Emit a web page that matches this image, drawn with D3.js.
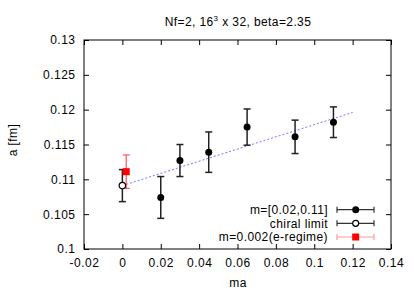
<!DOCTYPE html>
<html><head><meta charset="utf-8">
<script src="https://cdn.jsdelivr.net/npm/d3@7"></script>
<style>body{margin:0;background:#fff}text{font-family:"Liberation Sans",Arial,sans-serif;letter-spacing:0.4px}</style>
</head><body><svg id="c" width="414" height="290"></svg>
<script>
const massX = [0.02, 0.03, 0.045, 0.065, 0.09, 0.11];
const aY = [0.1074, 0.1127, 0.1139, 0.1175, 0.1161, 0.1182];
const aErr = [0.0030, 0.0023, 0.0029, 0.0026, 0.0024, 0.0022];
const chiralX = [0];
const chiralY = [0.1091];
const chiralErr = [0.0023];
const epsX = [0.002];
const epsY = [0.1111];
const epsErr = [0.0024];
const fitX = [0, 0.12];
const fitY = [0.1091, 0.1196];
const xTicks = [-0.02, 0, 0.02, 0.04, 0.06, 0.08, 0.1, 0.12, 0.14];
const yTicks = [0.1, 0.105, 0.11, 0.115, 0.12, 0.125, 0.13];
const legendLabels = ["m=[0.02,0.11]", "chiral limit", "m=0.002(e-regime)"];

const svg = d3.select("#c");
const L = 84, R = 391, T = 40, B = 249;
const x = d3.scaleLinear().domain([-0.02, 0.14]).range([L, R]);
const y = d3.scaleLinear().domain([0.1, 0.13]).range([B, T]);
const fmt = d => d === 0 ? "0" : String(+d.toFixed(3));

const gx = svg.append("g").attr("transform", `translate(0,${B})`)
  .call(d3.axisBottom(x).tickValues(xTicks).tickFormat(fmt).tickSizeInner(-5).tickSizeOuter(0).tickPadding(9.5));
const gxt = svg.append("g").attr("transform", `translate(0,${T})`)
  .call(d3.axisTop(x).tickValues(xTicks).tickFormat("").tickSizeInner(-5).tickSizeOuter(0));
const gy = svg.append("g").attr("transform", `translate(${L},0)`)
  .call(d3.axisLeft(y).tickValues(yTicks).tickFormat(fmt).tickSizeInner(-5).tickSizeOuter(0).tickPadding(8.5));
const gyr = svg.append("g").attr("transform", `translate(${R},0)`)
  .call(d3.axisRight(y).tickValues(yTicks).tickFormat("").tickSizeInner(-5).tickSizeOuter(0));
[gx, gxt, gy, gyr].forEach(g => {
  g.select(".domain").remove();
  g.selectAll("line").attr("stroke", "#000");
  g.selectAll("text").attr("font-size", 12).attr("fill", "#000").style("letter-spacing", "0.5px");
});
svg.append("rect").attr("x", L).attr("y", T).attr("width", R - L).attr("height", B - T)
  .attr("fill", "none").attr("stroke", "#000").attr("stroke-width", 1);

svg.append("line").attr("x1", x(fitX[0])).attr("y1", y(fitY[0])).attr("x2", x(fitX[1])).attr("y2", y(fitY[1]))
  .attr("stroke", "#7777ff").attr("stroke-width", 1).attr("stroke-dasharray", "2,2");

function errBars(xs, ys, es, color, w) {
  xs.forEach((xv, i) => {
    const cx = x(xv), y1 = y(ys[i] + es[i]), y2 = y(ys[i] - es[i]);
    const g = svg.append("g").attr("stroke", color).attr("stroke-width", w);
    g.append("line").attr("x1", cx).attr("x2", cx).attr("y1", y1).attr("y2", y2);
    g.append("line").attr("x1", cx - 3.5).attr("x2", cx + 3.5).attr("y1", y1).attr("y2", y1);
    g.append("line").attr("x1", cx - 3.5).attr("x2", cx + 3.5).attr("y1", y2).attr("y2", y2);
  });
}
errBars(massX, aY, aErr, "#222", 1.5);
errBars(chiralX, chiralY, chiralErr, "#222", 1.5);
errBars(epsX, epsY, epsErr, "#ff5555", 1.2);

svg.selectAll(".pt").data(massX).enter().append("circle")
  .attr("cx", d => x(d)).attr("cy", (d, i) => y(aY[i])).attr("r", 3.5).attr("fill", "#000");
svg.selectAll(".ch").data(chiralX).enter().append("circle")
  .attr("cx", d => x(d)).attr("cy", (d, i) => y(chiralY[i])).attr("r", 3.2).attr("fill", "#fff")
  .attr("stroke", "#000").attr("stroke-width", 1.2);
svg.selectAll(".ep").data(epsX).enter().append("rect")
  .attr("x", d => x(d) - 3.5).attr("y", (d, i) => y(epsY[i]) - 3.5).attr("width", 7).attr("height", 7).attr("fill", "#ff0000");

const ly = [209.7, 223.3, 237];
legendLabels.forEach((t, i) => {
  svg.append("text").attr("x", 328).attr("y", ly[i] + 4.3).attr("text-anchor", "end").attr("font-size", 12).text(t);
  const col = i === 2 ? "#ff9a9a" : "#333";
  const g = svg.append("g").attr("stroke", col).attr("stroke-width", 1.2);
  g.append("line").attr("x1", 337).attr("x2", 374).attr("y1", ly[i]).attr("y2", ly[i]);
  g.append("line").attr("x1", 337).attr("x2", 337).attr("y1", ly[i] - 3).attr("y2", ly[i] + 3);
  g.append("line").attr("x1", 374).attr("x2", 374).attr("y1", ly[i] - 3).attr("y2", ly[i] + 3);
  if (i === 0) svg.append("circle").attr("cx", 355.7).attr("cy", ly[i]).attr("r", 3.5).attr("fill", "#000");
  if (i === 1) svg.append("circle").attr("cx", 355.7).attr("cy", ly[i]).attr("r", 3).attr("fill", "#fff").attr("stroke", "#000").attr("stroke-width", 1.2);
  if (i === 2) svg.append("rect").attr("x", 352.2).attr("y", ly[i] - 3.5).attr("width", 7).attr("height", 7).attr("fill", "#ff0000");
});

const title = svg.append("text").attr("x", 238).attr("y", 26).attr("text-anchor", "middle").attr("font-size", 12);
title.append("tspan").text("Nf=2, 16");
title.append("tspan").attr("font-size", 8).attr("dy", -5).text("3");
title.append("tspan").attr("dy", 5).text(" x 32, beta=2.35");
svg.append("text").attr("x", 238).attr("y", 287).attr("text-anchor", "middle").attr("font-size", 12).text("ma");
svg.append("text").attr("transform", "translate(17,140) rotate(-90)").attr("text-anchor", "middle").attr("font-size", 12).text("a [fm]");
</script></body></html>
